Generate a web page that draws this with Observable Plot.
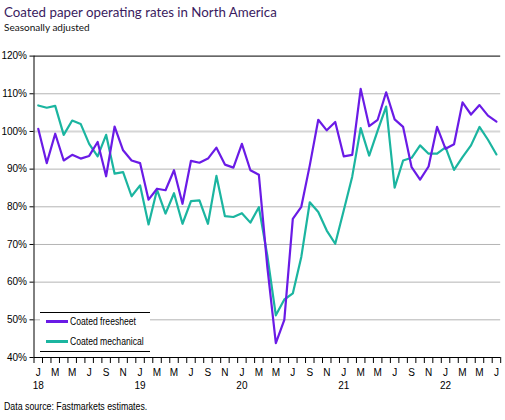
<!DOCTYPE html>
<html><head><meta charset="utf-8">
<script src="https://cdn.jsdelivr.net/npm/d3@7"></script>
<script src="https://cdn.jsdelivr.net/npm/@observablehq/plot@0.6"></script>
<style>
body{margin:0;background:#fff;}
#wrap{position:relative;width:505px;height:420px;overflow:hidden;font-family:"Liberation Sans",Arial,sans-serif;color:#000;}
#title{position:absolute;left:4px;top:3px;font-family:Lato,"Noto Sans",sans-serif;font-size:14px;color:#3a1b60;white-space:nowrap;transform:scaleX(0.95);transform-origin:0 0;}
#subtitle{position:absolute;left:4px;top:21px;font-family:Lato,"Noto Sans",sans-serif;font-size:10px;color:#111;white-space:nowrap;}
#chart{position:absolute;left:0;top:45px;}
#legend{position:absolute;left:40px;top:312px;width:110px;height:38px;border-top:1px solid #000;border-bottom:1px solid #000;background:#fff;}
.entry{position:absolute;left:6px;height:12px;font-size:10px;line-height:12px;white-space:nowrap;}
.sw{display:inline-block;width:22px;height:3px;vertical-align:middle;margin-right:2px;position:relative;top:-1px;}
.lt{display:inline-block;transform:scaleX(0.86);transform-origin:0 50%;}
#caption{position:absolute;left:4px;top:401px;font-size:10px;white-space:nowrap;transform:scaleX(0.88);transform-origin:0 0;}
</style></head><body>
<div id="wrap">
  <div id="title">Coated paper operating rates in North America</div>
  <div id="subtitle">Seasonally adjusted</div>
  <div id="chart"></div>
  <div id="legend"></div>
  <div id="caption">Data source: Fastmarkets estimates.</div>
</div>
<script>
// Monthly values, Jan 2018 – Jul 2022 (%)
const seriesNames = ["Coated freesheet", "Coated mechanical"];
const freesheet = [100.7, 91.6, 99.4, 92.3, 93.8, 92.8, 93.5, 97.2, 88.1, 101.3, 95.0, 92.3,
  91.6, 81.9, 84.8, 84.4, 89.7, 80.8, 92.2, 91.7, 92.8, 95.7, 91.2, 90.4,
  96.7, 89.7, 88.5, 64.0, 43.8, 50.0, 76.8, 80.0, 91.0, 103.1, 100.3, 102.5,
  93.4, 93.8, 111.3, 101.4, 103.1, 110.4, 103.2, 101.2, 90.5, 87.2, 90.7, 101.2,
  95.4, 96.6, 107.7, 104.5, 107.0, 104.2, 102.6];
const mechanical = [106.9, 106.3, 106.8, 99.1, 102.9, 102.0, 96.7, 93.4, 99.1, 88.8, 89.2, 82.8,
  85.7, 75.3, 84.5, 78.2, 83.6, 75.5, 81.5, 81.7, 75.5, 88.2, 77.5, 77.3,
  78.3, 75.8, 79.9, 67.0, 51.2, 55.4, 57.0, 66.7, 81.2, 78.6, 73.7, 70.2,
  79.0, 88.0, 100.9, 93.6, 100.2, 106.6, 85.1, 92.3, 93.0, 96.3, 94.1, 94.1,
  95.8, 89.8, 93.2, 96.3, 101.2, 97.8, 93.9];
const monthLetters = ["J","F","M","A","M","J","J","A","S","O","N","D"];
const yearLabels = ["18","19","20","21","22"];
const yTicks = [40, 50, 60, 70, 80, 90, 100, 110, 120];
const colors = ["#6a1be6", "#1bb5a0"];

const n = freesheet.length;
const idx = d3.range(n);
const boundaries = d3.range(n + 1).map(i => i - 0.5);
const labelIdx = idx.filter(i => i % 2 === 0);
const janIdx = idx.filter(i => i % 12 === 0);
const free = freesheet.map((v, i) => ({i, v}));
const mech = mechanical.map((v, i) => ({i, v}));

const chart = Plot.plot({
  width: 505, height: 355,
  marginLeft: 33.5, marginRight: 4.8, marginTop: 10.6, marginBottom: 43,
  x: {domain: [-0.5, n - 0.5]},
  y: {domain: [40, 120]},
  style: {fontFamily: "Liberation Sans, Arial, sans-serif", fontSize: "10px", color: "#000", background: "#fff"},
  marks: [
    Plot.ruleY(yTicks.filter(d => d > 40 && d < 120 && d !== 100), {stroke: "#b4b4b4", strokeWidth: 1}),
    Plot.ruleY([100], {stroke: "#d6d6d6", strokeWidth: 2}),
    Plot.ruleY([120], {stroke: "#000", strokeWidth: 1}),
    Plot.ruleY([40], {stroke: "#000", strokeWidth: 1}),
    Plot.ruleX([-0.5], {stroke: "#000", strokeWidth: 1}),
    Plot.axisY({ticks: yTicks, tickFormat: d => d + "%", tickSize: 4, tickPadding: 3, label: null}),
    Plot.axisX({ticks: boundaries, tickFormat: () => "", tickSize: 6, label: null}),
    Plot.axisX({ticks: labelIdx, tickFormat: i => monthLetters[i % 12], tickSize: 0, tickPadding: 11, label: null}),
    Plot.axisX({ticks: janIdx, tickFormat: i => yearLabels[i / 12], tickSize: 0, tickPadding: 24, label: null}),
    Plot.line(mech, {x: "i", y: "v", stroke: colors[1], strokeWidth: 2.2}),
    Plot.line(free, {x: "i", y: "v", stroke: colors[0], strokeWidth: 2.2})
  ]
});
document.getElementById("chart").appendChild(chart);

const legend = document.getElementById("legend");
seriesNames.forEach((name, k) => {
  const e = document.createElement("div");
  e.className = "entry";
  e.style.top = (3 + k * 20) + "px";
  e.innerHTML = `<span class="sw" style="background:${colors[k]}"></span><span class="lt">${name}</span>`;
  legend.appendChild(e);
});
</script>
</body></html>
